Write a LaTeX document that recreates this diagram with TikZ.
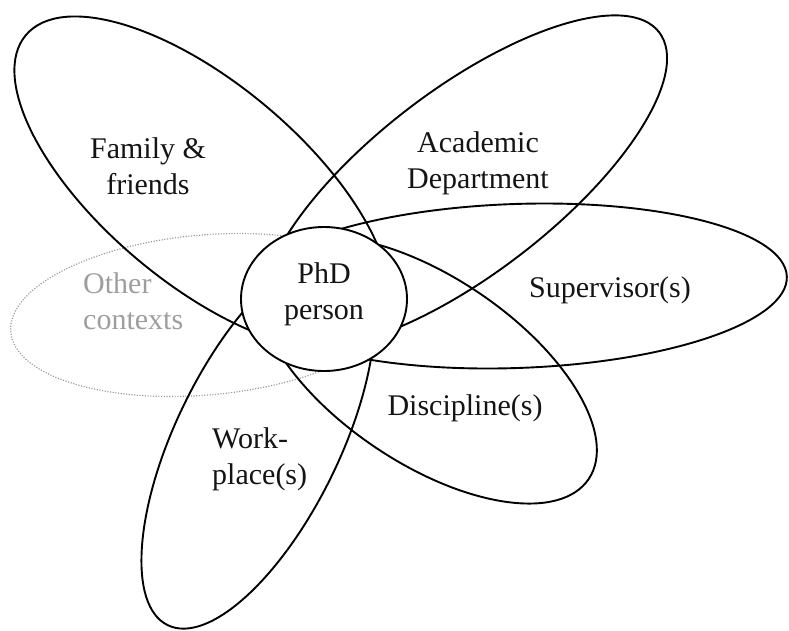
\documentclass[tikz,border=0pt]{standalone}
\usepackage{fontspec}
\setmainfont{Liberation Serif}
\usetikzlibrary{shapes.geometric}
\newcommand\twolines[3]{\begin{tabular}[t]{@{}#1@{}}#2\\#3\end{tabular}}
\begin{document}
\begin{tikzpicture}[x=1pt,y=-1pt,
  ring/.style={draw=black, line width=1.9pt},
  otherring/.style={draw=black!40, line width=1.2pt, dash pattern=on 1.1pt off 1.6pt},
  lbl/.style={font=\fontsize{30}{36}\selectfont, inner sep=0pt, text=black!92},
  greylbl/.style={lbl, text=black!38},
  phdring/.style={ring, fill=white, ellipse, minimum width=166pt, minimum height=144pt, inner sep=0pt}
]
\useasboundingbox (0,0) rectangle (789,630);
% other contexts (dotted)
\draw[otherring, rotate around={5:(205,315)}] (205,315) ellipse (195 and 80);
% family & friends
\draw[ring, rotate around={-40:(202,183)}] (202,183) ellipse (230 and 100);
% academic department
\draw[ring, rotate around={37.5:(464,182)}] (464,182) ellipse (246 and 92);
% supervisor(s)
\draw[ring, rotate around={2:(516,286)}] (516,286) ellipse (271 and 82);
% discipline(s)
\draw[ring, rotate around={-34:(427,370)}] (427,370) ellipse (195 and 93);
% workplace(s)
\draw[ring, rotate around={64:(258,440)}] (258,440) ellipse (206 and 82);
% PhD person
\node[phdring] (phd) at (324,299) {};
\node[lbl, anchor=base] (phdlabel) at (324,283) {\twolines{c}{PhD}{person}};
% labels
\node[lbl, anchor=base] (family) at (148,158) {\twolines{c}{Family \&}{friends}};
\node[lbl, anchor=base] (academic) at (478,152) {\twolines{c}{Academic}{Department}};
\node[lbl, anchor=base] (supervisor) at (610,297) {Supervisor(s)};
\node[lbl, anchor=base] (discipline) at (465,415) {Discipline(s)};
\node[lbl, anchor=base west] (workplace) at (212,448) {\twolines{l}{Work-}{place(s)}};
\node[greylbl, anchor=base west] (other) at (83,293) {\twolines{l}{Other}{contexts}};
\end{tikzpicture}
\end{document}
